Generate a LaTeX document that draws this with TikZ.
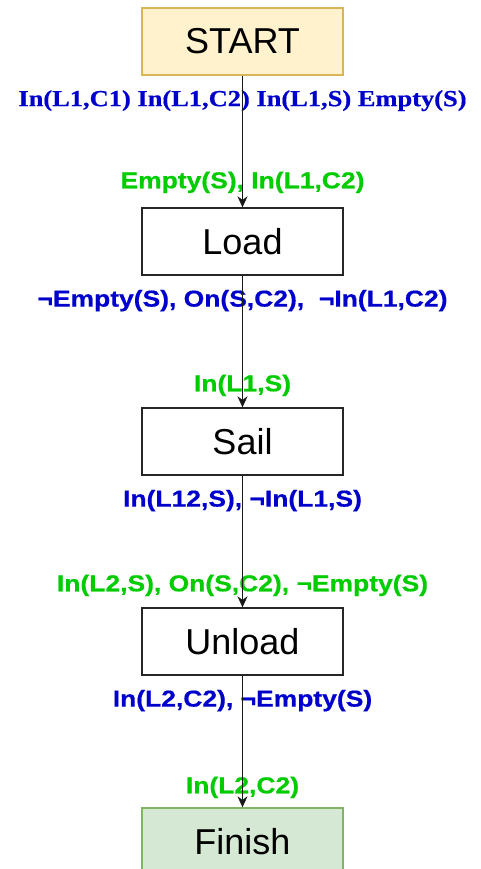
\documentclass[tikz,border=0pt]{standalone}
\usepackage{fontspec}
\usetikzlibrary{arrows.meta, positioning, graphs}
\newfontfamily\boxfont{Liberation Sans}
\newfontfamily\lblsans[FakeStretch=1.15,FakeBold=0.6]{Liberation Sans}
\newfontfamily\lblserif[FakeStretch=1.15,FakeBold=0.6]{Liberation Serif}
\definecolor{drawioyellow}{HTML}{FFF2CC}
\definecolor{drawioyellowline}{HTML}{D6B656}
\definecolor{drawiogreen}{HTML}{D5E8D4}
\definecolor{drawiogreenline}{HTML}{82B366}
\definecolor{effblue}{HTML}{0000CC}
\definecolor{precgreen}{HTML}{00CC00}

\begin{document}
\begin{tikzpicture}[x=1pt,y=1pt]
  \tikzset{act/.style={rectangle,draw=black!85,line width=1.3pt,minimum width=201pt,minimum height=67pt,font=\boxfont\fontsize{36}{40}\selectfont}};
  \tikzset{eff/.style={effblue,inner sep=0pt,font=\lblsans\bfseries\fontsize{23}{27}\selectfont}};
  \tikzset{pre/.style={precgreen,inner sep=0pt,font=\lblsans\bfseries\fontsize{23}{27}\selectfont}};
  \tikzset{flow/.style={line width=1.4pt,black!90,-{Stealth[length=11pt,width=10pt,inset=3.5pt]}}};
  \def\gap{131.7pt};
  \def\lbl{25pt};

  \useasboundingbox (0,0) rectangle (481,-869);

  % actions
  \node[act,fill=drawioyellow,draw=drawioyellowline] (start) at (242.5,-41.5) {START};
  \node[act,below=\gap of start] (load) {Load};
  \node[act,below=\gap of load] (sail) {Sail};
  \node[act,below=\gap of sail] (unload) {Unload};
  \node[act,below=\gap of unload,fill=drawiogreen,draw=drawiogreenline] (finish) {Finish};

  % effects below, preconditions above
  \node[eff,below=\lbl of start.south,anchor=center,font=\lblserif\bfseries\fontsize{23}{27}\selectfont] (effstart) {In(L1,C1) In(L1,C2) In(L1,S) Empty(S)};
  \node[pre,above=\lbl of load.north,anchor=center] (preload) {Empty(S), In(L1,C2)};
  \node[eff,below=\lbl of load.south,anchor=center] (effload) {¬Empty(S), On(S,C2),\ \ ¬In(L1,C2)};
  \node[pre,above=22pt of sail.north,anchor=center] (presail) {In(L1,S)};
  \node[eff,below=\lbl of sail.south,anchor=center] (effsail) {In(L12,S), ¬In(L1,S)};
  \node[pre,above=22pt of unload.north,anchor=center] (preunload) {In(L2,S), On(S,C2), ¬Empty(S)};
  \node[eff,below=\lbl of unload.south,anchor=center] (effunload) {In(L2,C2), ¬Empty(S)};
  \node[pre,above=20pt of finish.north,anchor=center] (prefinish) {In(L2,C2)};

  \graph[use existing nodes, edges=flow] {
    (start) -> (load) -> (sail) -> (unload) -> (finish)
  };

\end{tikzpicture}
\end{document}
